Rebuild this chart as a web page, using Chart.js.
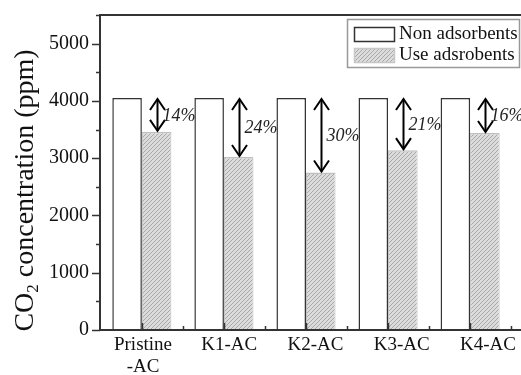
<!DOCTYPE html>
<html>
<head>
<meta charset="utf-8">
<script src="https://cdn.jsdelivr.net/npm/chart.js@4.4.1/dist/chart.umd.min.js"></script>
<style>
    html, body { margin: 0; padding: 0; background: #fff; overflow: hidden; }
    #wrap { width: 521px; height: 375px; position: relative; }
</style>
</head>
<body>
<div id="wrap"><canvas id="co2Chart" width="521" height="375"></canvas></div>
<script>
const categories = [['Pristine', '-AC'], 'K1-AC', 'K2-AC', 'K3-AC', 'K4-AC'];
const nonAdsorbents = [4050, 4050, 4050, 4050, 4050];
const useAdsorbents = [3460, 3020, 2750, 3140, 3440];
const reductionLabels = ['14%', '24%', '30%', '21%', '16%'];
const yTicks = [0, 1000, 2000, 3000, 4000, 5000];
const seriesNames = ['Non adsorbents', 'Use adsrobents'];

const SERIF = '"Liberation Serif", "Times New Roman", serif';
const AXIS = '#333';

function makeHatch() {
    const c = document.createElement('canvas');
    c.width = 4;
    c.height = 4;
    const g = c.getContext('2d');
    g.fillStyle = '#dcdcdc';
    g.fillRect(0, 0, 4, 4);
    g.strokeStyle = '#a8a8a8';
    g.lineWidth = 1;
    g.beginPath();
    g.moveTo(0, 4); g.lineTo(4, 0);
    g.moveTo(-1, 1); g.lineTo(1, -1);
    g.moveTo(3, 5); g.lineTo(5, 3);
    g.stroke();
    return g.createPattern(c, 'repeat');
}
const hatch = makeHatch();

function arrowHead(ctx, x, y, dir) {
    ctx.beginPath();
    ctx.moveTo(x - 7.5, y + dir * 11);
    ctx.lineTo(x, y);
    ctx.lineTo(x + 7.5, y + dir * 11);
    ctx.stroke();
}

const decorations = {
    id: 'decorations',
    afterDatasetsDraw(chart) {
        const ctx = chart.ctx;
        const area = chart.chartArea;
        const xs = chart.scales.x;
        const ys = chart.scales.y;
        ctx.save();

        // frame: top, left, bottom
        ctx.strokeStyle = AXIS;
        ctx.lineWidth = 2;
        ctx.beginPath();
        ctx.moveTo(area.right + 2, area.top);
        ctx.lineTo(area.left, area.top);
        ctx.lineTo(area.left, area.bottom);
        ctx.lineTo(area.right + 2, area.bottom);
        ctx.stroke();

        // y ticks (outward), minor every 500
        ctx.lineWidth = 1.5;
        for (let v = 0; v <= 5500; v += 500) {
            const y = Math.round(ys.getPixelForValue(v)) + 0.5;
            const len = v % 1000 === 0 ? 8 : 4;
            ctx.beginPath();
            ctx.moveTo(area.left - len, y);
            ctx.lineTo(area.left, y);
            ctx.stroke();
        }
        // x ticks (inward), minor between categories
        for (let v = 0; v <= categories.length - 0.5; v += 0.5) {
            const x = Math.round(xs.getPixelForValue(v)) + 0.5;
            const len = Number.isInteger(v) ? 7 : 4;
            ctx.beginPath();
            ctx.moveTo(x, area.bottom);
            ctx.lineTo(x, area.bottom - len);
            ctx.stroke();
        }

        // reduction arrows
        const meta = chart.getDatasetMeta(1);
        ctx.strokeStyle = '#000';
        ctx.lineWidth = 2;
        ctx.fillStyle = '#222';
        ctx.font = 'italic 18px ' + SERIF;
        ctx.textBaseline = 'middle';
        ctx.textAlign = 'left';
        meta.data.forEach((bar, i) => {
            const x = Math.round(bar.x) + 0.5;
            const yTop = ys.getPixelForValue(nonAdsorbents[i]) + 1;
            const yBot = ys.getPixelForValue(useAdsorbents[i]) - 1;
            ctx.beginPath();
            ctx.moveTo(x, yTop);
            ctx.lineTo(x, yBot);
            ctx.stroke();
            arrowHead(ctx, x, yTop, 1);
            arrowHead(ctx, x, yBot, -1);
            ctx.fillText(reductionLabels[i], x + 5, (yTop + yBot) / 2 + 1);
        });

        // legend box
        const lx = 347, ly = 19, lw = 172, lh = 48;
        ctx.strokeStyle = '#999';
        ctx.lineWidth = 1.5;
        ctx.strokeRect(lx + 0.5, ly + 0.5, lw, lh);
        const swatches = [{ fill: '#fff', stroke: AXIS }, { fill: hatch, stroke: '#c8c8c8' }];
        ctx.font = '19px ' + SERIF;
        ctx.textBaseline = 'middle';
        swatches.forEach((s, i) => {
            const sy = ly + 8 + i * 21;
            ctx.fillStyle = s.fill;
            ctx.fillRect(lx + 7, sy, 41, 15);
            ctx.strokeStyle = s.stroke;
            ctx.lineWidth = 1.5;
            ctx.strokeRect(lx + 7.5, sy + 0.5, 40, 14);
            ctx.fillStyle = '#111';
            ctx.fillText(seriesNames[i], lx + 52, sy + 7);
        });

        // y axis title with subscript
        ctx.translate(23, (area.top + area.bottom) / 2 + 18);
        ctx.rotate(-Math.PI / 2);
        ctx.fillStyle = '#111';
        ctx.textBaseline = 'alphabetic';
        const big = '28px ' + SERIF, small = '17px ' + SERIF;
        ctx.font = big;
        const w1 = ctx.measureText('CO').width;
        const w3 = ctx.measureText(' concentration (ppm)').width;
        ctx.font = small;
        const w2 = ctx.measureText('2').width;
        let tx = -(w1 + w2 + w3) / 2;
        ctx.font = big;
        ctx.fillText('CO', tx, 10);
        tx += w1;
        ctx.font = small;
        ctx.fillText('2', tx, 15);
        tx += w2;
        ctx.font = big;
        ctx.fillText(' concentration (ppm)', tx, 10);

        ctx.restore();
    }
};

const ctx = document.getElementById('co2Chart').getContext('2d');
const co2Chart = new Chart(ctx, {
    type: 'bar',
    data: {
        datasets: [
            {
                label: seriesNames[0],
                data: categories.map((c, i) => ({ x: i, y: nonAdsorbents[i] })),
                backgroundColor: '#fff',
                borderColor: AXIS,
                borderWidth: { top: 1.5, left: 1.5, right: 1.5, bottom: 0 },
                borderSkipped: false,
            },
            {
                label: seriesNames[1],
                data: categories.map((c, i) => ({ x: i, y: useAdsorbents[i] })),
                backgroundColor: hatch,
                borderColor: '#c0c0c0',
                borderWidth: { top: 1.5, left: 1, right: 1, bottom: 0 },
                borderSkipped: false,
            },
        ],
    },
    options: {
        responsive: false,
        animation: false,
        layout: { padding: { top: 15, right: 0, left: 0, bottom: 0 } },
        datasets: {
            bar: { categoryPercentage: 0.72, barPercentage: 1.0 },
        },
        scales: {
            x: {
                type: 'linear',
                offset: false,
                min: -0.51,
                max: 4.62,
                grid: { display: false },
                border: { display: false },
                ticks: { display: false },
                afterBuildTicks: (scale) => {
                    scale.ticks = categories.map((c, i) => ({ value: i }));
                },
                afterFit: (scale) => { scale.height = 0; },
            },
            // category names sit on a slightly wider spacing than the bars in the original figure
            xLabels: {
                type: 'linear',
                position: 'bottom',
                offset: false,
                min: -0.4986,
                max: 4.383,
                grid: { display: false },
                border: { display: false },
                afterBuildTicks: (scale) => {
                    scale.ticks = categories.map((c, i) => ({ value: i }));
                },
                afterFit: (scale) => { scale.height = 45; },
                ticks: {
                    padding: -4,
                    color: '#111',
                    font: { family: SERIF, size: 19, lineHeight: 1.15 },
                    maxRotation: 0,
                    autoSkip: false,
                    callback: (v) => categories[v],
                },
            },
            y: {
                min: 0,
                max: 5500,
                grid: { display: false },
                border: { display: false },
                afterBuildTicks: (scale) => {
                    scale.ticks = yTicks.map((v) => ({ value: v }));
                },
                afterFit: (scale) => { scale.width = 100; },
                ticks: {
                    padding: 3,
                    color: '#111',
                    font: { family: SERIF, size: 20 },
                    callback: (v) => String(v),
                },
            },
        },
        plugins: {
            legend: { display: false },
            tooltip: { enabled: false },
        },
    },
    plugins: [decorations],
});
</script>
</body>
</html>
